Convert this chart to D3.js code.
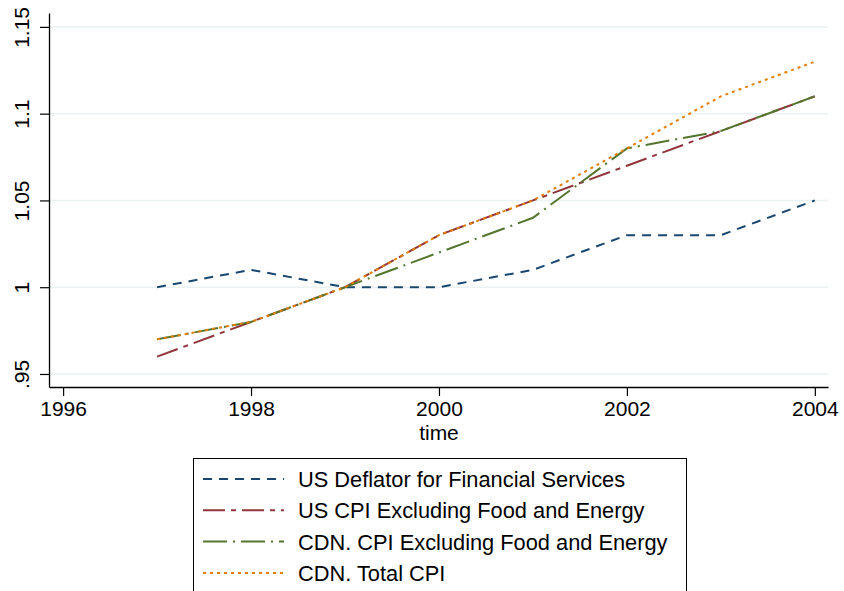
<!DOCTYPE html>
<html>
<head>
<meta charset="utf-8">
<script src="https://cdn.jsdelivr.net/npm/d3@7"></script>
<style>
  body { margin: 0; background: #fff; }
  text { font-family: "Liberation Sans", Arial, sans-serif; fill: #000; }
</style>
</head>
<body>
<div id="chart"></div>
<script>
// data
var years = [1997, 1998, 1999, 2000, 2001, 2002, 2003, 2004];
var usDeflator = [1.00, 1.01, 1.00, 1.00, 1.01, 1.03, 1.03, 1.05];
var usCpiEx = [0.96, 0.98, 1.00, 1.03, 1.05, 1.07, 1.09, 1.11];
var cdnCpiEx = [0.97, 0.98, 1.00, 1.02, 1.04, 1.08, 1.09, 1.11];
var cdnTotal = [0.97, 0.98, 1.00, 1.03, 1.05, 1.08, 1.11, 1.13];
var xTicks = [1996, 1998, 2000, 2002, 2004];
var yTicks = [0.95, 1, 1.05, 1.1, 1.15];
var yTickLabels = [".95", "1", "1.05", "1.1", "1.15"];

var series = [
  {name: "US Deflator for Financial Services", values: usDeflator, color: "#1a476f", dash: "9,7"},
  {name: "US CPI Excluding Food and Energy", values: usCpiEx, color: "#90353b", dash: "22,6,5,6"},
  {name: "CDN. CPI Excluding Food and Energy", values: cdnCpiEx, color: "#55752f", dash: "24,6,2,6"},
  {name: "CDN. Total CPI", values: cdnTotal, color: "#e37e00", dash: "3,4"}
];

var width = 844, height = 591;
var margin = {top: 13, right: 16, bottom: 204, left: 49};
var fontSize = "21px";

var svg = d3.select("#chart")
  .append("svg")
    .attr("width", width)
    .attr("height", height);

// scales
var x = d3.scaleLinear()
  .domain([1995.85, 2004.14])
  .range([margin.left, width - margin.right]);
var y = d3.scaleLinear()
  .domain([0.9425, 1.158])
  .range([height - margin.bottom, margin.top]);

// gridlines
svg.append("g")
  .selectAll("line")
  .data(yTicks)
  .enter()
  .append("line")
    .attr("x1", margin.left)
    .attr("x2", width - margin.right)
    .attr("y1", function(d) { return y(d); })
    .attr("y2", function(d) { return y(d); })
    .style("stroke", "#eaf2f3")
    .style("stroke-width", 1.5);

// x axis
var xAxis = svg.append("g")
  .attr("transform", "translate(0," + (height - margin.bottom) + ")")
  .call(d3.axisBottom(x).tickValues(xTicks).tickFormat(d3.format("d")).tickSize(9).tickSizeOuter(0));
xAxis.select(".domain").style("stroke", "#000").style("stroke-width", 1.3);
xAxis.selectAll(".tick line").style("stroke", "#000").style("stroke-width", 1.2);
xAxis.selectAll(".tick text")
  .attr("y", 29)
  .attr("dy", null)
  .style("font-size", fontSize)
  .style("font-family", "Liberation Sans, Arial, sans-serif");

// y axis
var yAxis = svg.append("g")
  .attr("transform", "translate(" + margin.left + ",0)")
  .call(d3.axisLeft(y).tickValues(yTicks).tickFormat(function(d, i) { return yTickLabels[i]; }).tickSize(9).tickSizeOuter(0));
yAxis.select(".domain").style("stroke", "#000").style("stroke-width", 1.3);
yAxis.selectAll(".tick line").style("stroke", "#000").style("stroke-width", 1.2);
yAxis.selectAll(".tick text")
  .attr("x", null)
  .attr("dy", null)
  .attr("transform", "translate(-20,0) rotate(-90)")
  .attr("text-anchor", "middle")
  .style("font-size", fontSize)
  .style("font-family", "Liberation Sans, Arial, sans-serif");

// x axis title
svg.append("text")
  .attr("x", x(2000))
  .attr("y", 440)
  .attr("text-anchor", "middle")
  .style("font-size", fontSize)
  .text("time");

// lines
var line = d3.line()
  .x(function(d, i) { return x(years[i]); })
  .y(function(d) { return y(d); });

svg.append("g")
  .selectAll("path")
  .data(series)
  .enter()
  .append("path")
    .attr("d", function(d) { return line(d.values); })
    .style("fill", "none")
    .style("stroke", function(d) { return d.color; })
    .style("stroke-width", 2)
    .style("stroke-dasharray", function(d) { return d.dash; });

// legend
var legend = svg.append("g");
legend.append("rect")
  .attr("x", 193.5)
  .attr("y", 458.5)
  .attr("width", 493)
  .attr("height", 140)
  .style("fill", "#fff")
  .style("stroke", "#000")
  .style("stroke-width", 1);

var rows = legend.selectAll("g.row")
  .data(series)
  .enter()
  .append("g")
    .attr("class", "row")
    .attr("transform", function(d, i) { return "translate(0," + (479 + i * 31.3) + ")"; });

rows.append("line")
  .attr("x1", 203)
  .attr("x2", 284)
  .attr("y1", 0)
  .attr("y2", 0)
  .style("stroke", function(d) { return d.color; })
  .style("stroke-width", 2)
  .style("stroke-dasharray", function(d) { return d.dash; });

rows.append("text")
  .attr("x", 298)
  .attr("y", 8)
  .style("font-size", "21.8px")
  .text(function(d) { return d.name; });
</script>
</body>
</html>
